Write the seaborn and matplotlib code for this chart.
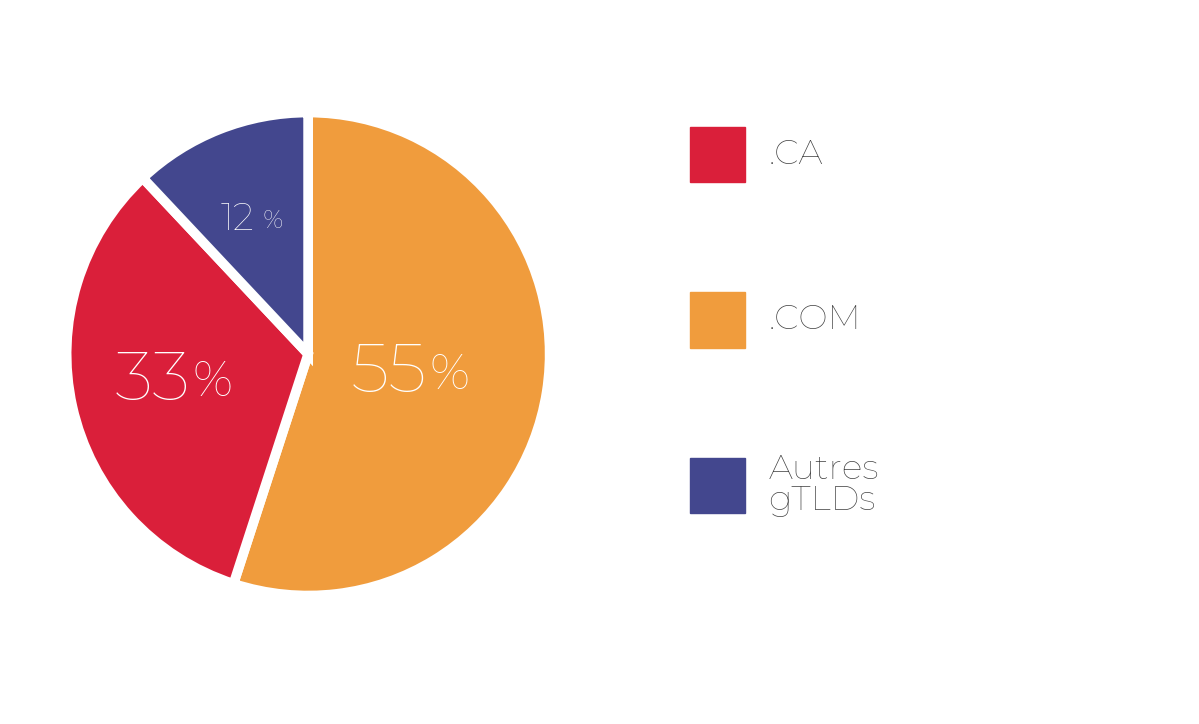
import numpy as np
import matplotlib
matplotlib.use("Agg")
import matplotlib.pyplot as plt
import seaborn as sns
from matplotlib.patches import Rectangle

sns.set_theme(style="white")
plt.rcParams['font.family'] = ['Montserrat', 'DejaVu Sans']

# data
labels = ['.COM', '.CA', 'Autres\ngTLDs']
values = [55, 33, 12]
colors = ['#F09C3D', '#DA1F3A', '#43478E']
legend_order = [1, 0, 2]
text_grey = '#404040'

fig = plt.figure(figsize=(11.99, 7.24), dpi=100)
ax = fig.add_axes([0.257 - 0.252, 0.511 - 0.417, 0.504, 0.834])
wedges, _ = ax.pie(values, colors=colors, startangle=90, counterclock=False,
                   wedgeprops=dict(edgecolor='white', linewidth=7))
ax.set_aspect('equal')

# percentage labels at wedge mid-angles
big = [(50, 36), (50, 36), (27, 18)]
rads = [0.5, 0.5, 0.6]
for w, v, (fs, fs2), r in zip(wedges, values, big, rads):
    ang = np.deg2rad((w.theta1 + w.theta2) / 2)
    x, y = r * np.cos(ang), r * np.sin(ang)
    ax.text(x, y, str(v), color='white', fontsize=fs, fontweight='bold',
            ha='right', va='center')
    ax.text(x + 0.01, y - 0.01, '%' if fs > 30 else ' %', color='white',
            fontsize=fs2, ha='left', va='center')

# legend
ys = [0.786, 0.558, 0.330]
for i, y in zip(legend_order, ys):
    fig.add_artist(Rectangle((0.5755, y - 0.038), 0.046, 0.076,
                             transform=fig.transFigure, color=colors[i]))
    fig.text(0.641, y, labels[i], fontsize=25, fontweight='bold', color=text_grey,
             va='center', ha='left', linespacing=0.95)

fig.savefig('out.png', dpi=100)
